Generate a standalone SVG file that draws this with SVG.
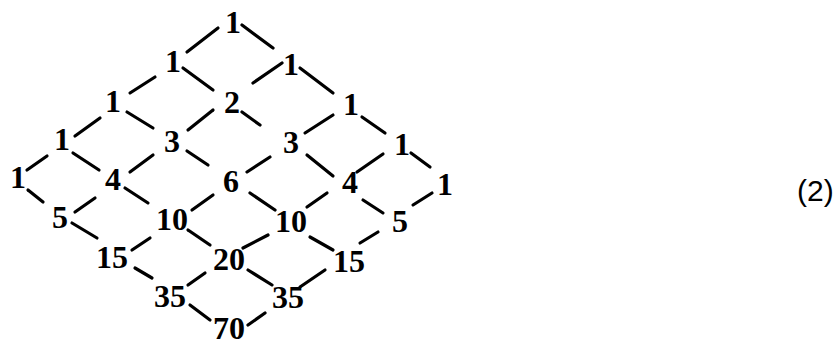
<svg xmlns="http://www.w3.org/2000/svg" width="840" height="347" viewBox="0 0 840 347">
<style>
.n{font-family:"Liberation Serif","Times New Roman",serif;font-weight:bold;font-size:32px;fill:#000;text-anchor:middle}
.e line{stroke:#000;stroke-width:3.2;stroke-linecap:round}
.lbl{font-family:"Liberation Sans",Arial,sans-serif;font-size:30px;fill:#000}
</style>
<rect width="840" height="347" fill="#fff"/>
<g id="connectors" class="e">
<line x1="218" y1="28" x2="187" y2="52"/>
<line x1="155" y1="77" x2="130" y2="93"/>
<line x1="100" y1="118" x2="75" y2="136"/>
<line x1="47" y1="156" x2="27" y2="170"/>
<line x1="282" y1="63" x2="253" y2="83"/>
<line x1="213" y1="110" x2="188" y2="130"/>
<line x1="153" y1="155" x2="130" y2="172"/>
<line x1="95" y1="198" x2="75" y2="212"/>
<line x1="333" y1="115" x2="305" y2="133"/>
<line x1="270" y1="157" x2="247" y2="172"/>
<line x1="213" y1="195" x2="192" y2="210"/>
<line x1="150" y1="238" x2="132" y2="250"/>
<line x1="383" y1="154" x2="357" y2="172"/>
<line x1="327" y1="193" x2="307" y2="207"/>
<line x1="268" y1="235" x2="243" y2="248"/>
<line x1="205" y1="273" x2="188" y2="285"/>
<line x1="432" y1="193" x2="413" y2="205"/>
<line x1="378" y1="232" x2="360" y2="243"/>
<line x1="325" y1="270" x2="300" y2="287"/>
<line x1="265" y1="313" x2="248" y2="325"/>
<line x1="242" y1="25" x2="273" y2="48"/>
<line x1="300" y1="68" x2="333" y2="93"/>
<line x1="362" y1="117" x2="385" y2="133"/>
<line x1="411" y1="153" x2="430" y2="167"/>
<line x1="183" y1="68" x2="213" y2="90"/>
<line x1="242" y1="112" x2="260" y2="125"/>
<line x1="307" y1="155" x2="333" y2="176"/>
<line x1="363" y1="200" x2="383" y2="213"/>
<line x1="127" y1="112" x2="153" y2="128"/>
<line x1="187" y1="151" x2="208" y2="165"/>
<line x1="250" y1="193" x2="275" y2="210"/>
<line x1="310" y1="237" x2="333" y2="250"/>
<line x1="73" y1="153" x2="99" y2="170"/>
<line x1="125" y1="188" x2="148" y2="203"/>
<line x1="188" y1="230" x2="210" y2="245"/>
<line x1="248" y1="270" x2="272" y2="285"/>
<line x1="28" y1="190" x2="43" y2="202"/>
<line x1="72" y1="223" x2="97" y2="238"/>
<line x1="135" y1="268" x2="152" y2="278"/>
<line x1="190" y1="305" x2="210" y2="320"/>
</g>
<g id="n00"><text class="n" x="233" y="33">1</text></g>
<g id="n10"><text class="n" x="173" y="72">1</text></g>
<g id="n01"><text class="n" x="291" y="75">1</text></g>
<g id="n20"><text class="n" x="113" y="112">1</text></g>
<g id="n11"><text class="n" x="232" y="113">2</text></g>
<g id="n02"><text class="n" x="351" y="115">1</text></g>
<g id="n30"><text class="n" x="62" y="150">1</text></g>
<g id="n21"><text class="n" x="172" y="152">3</text></g>
<g id="n12"><text class="n" x="291" y="153">3</text></g>
<g id="n03"><text class="n" x="402" y="155">1</text></g>
<g id="n40"><text class="n" x="18" y="188">1</text></g>
<g id="n31"><text class="n" x="113" y="190">4</text></g>
<g id="n22"><text class="n" x="231" y="192">6</text></g>
<g id="n13"><text class="n" x="350" y="193">4</text></g>
<g id="n04"><text class="n" x="445" y="195">1</text></g>
<g id="n41"><text class="n" x="60" y="228">5</text></g>
<g id="n32"><text class="n" x="172" y="230">10</text></g>
<g id="n23"><text class="n" x="291" y="232">10</text></g>
<g id="n14"><text class="n" x="400" y="232">5</text></g>
<g id="n42"><text class="n" x="112" y="268">15</text></g>
<g id="n33"><text class="n" x="229" y="270">20</text></g>
<g id="n24"><text class="n" x="349" y="272">15</text></g>
<g id="n43"><text class="n" x="170" y="307">35</text></g>
<g id="n34"><text class="n" x="288" y="308">35</text></g>
<g id="n44"><text class="n" x="229" y="339">70</text></g>
<text class="lbl" x="797" y="201">(2)</text>
</svg>
